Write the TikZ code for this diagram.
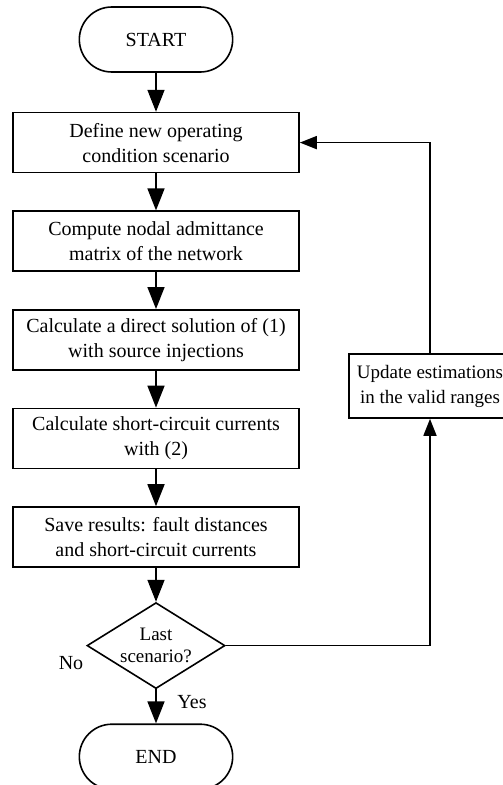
\documentclass[tikz,border=0pt]{standalone}
\usepackage{fontspec}
\setmainfont{Liberation Serif}
\usepackage{tikz}
\usetikzlibrary{arrows.meta,positioning,shapes.geometric,shapes.misc}

\begin{document}
\begin{tikzpicture}[x=1pt,y=1pt,
every node/.style={font=\fontsize{20}{25}\selectfont, align=center, line width=1.6pt},
process/.style={draw, rectangle, minimum width=286pt, minimum height=60pt, inner sep=2pt},
terminal/.style={draw, rounded rectangle, minimum width=160pt, minimum height=65pt},
decision/.style={draw, diamond, aspect=1.6, inner sep=0pt, minimum width=138pt, minimum height=86pt,
  font=\fontsize{19}{22}\selectfont},
flow/.style={line width=1.6pt, -{Triangle[length=22pt,width=17pt]}},
back/.style={line width=1.6pt, -{Triangle[length=17pt,width=13pt]}}]
\useasboundingbox (0,0) rectangle (503,-785);
\def\dist{37pt}
% main chain
\node[terminal] (start) at (156,-39.5) {START};
\node[process, below=39pt of start] (define) {Define new operating\\condition scenario};
\node[process, below=\dist of define] (admit) {Compute nodal admittance\\matrix of the network};
\node[process, below=\dist of admit] (direct) {Calculate a direct solution of (1)\\with source injections};
\node[process, below=\dist of direct] (short) {Calculate short-circuit currents\\with (2)};
\node[process, below=\dist of short] (save) {Save results: fault distances\\and short-circuit currents};
\node[decision, below=34pt of save] (last) {Last\\scenario?};
\node[terminal, below=34pt of last] (end) {END};

% side box of the loop
\node[process, minimum width=162pt, minimum height=64pt, font=\fontsize{19}{25}\selectfont] (update) at (430,-386) {Update estimations\\in the valid ranges};

% branch labels
\node (no) at (71,-663) {No};
\node (yes) at (192,-702) {Yes};

% arrows down the chain
\foreach \a/\b in {start/define, define/admit, admit/direct, direct/short, short/save, save/last, last/end}
  \draw[flow] (\a.south) -- (\b.north);
% loop back
\draw[back] (last.east) -| (update.south);
\draw[back] (update.north) |- (define.east);
\end{tikzpicture}
\end{document}
